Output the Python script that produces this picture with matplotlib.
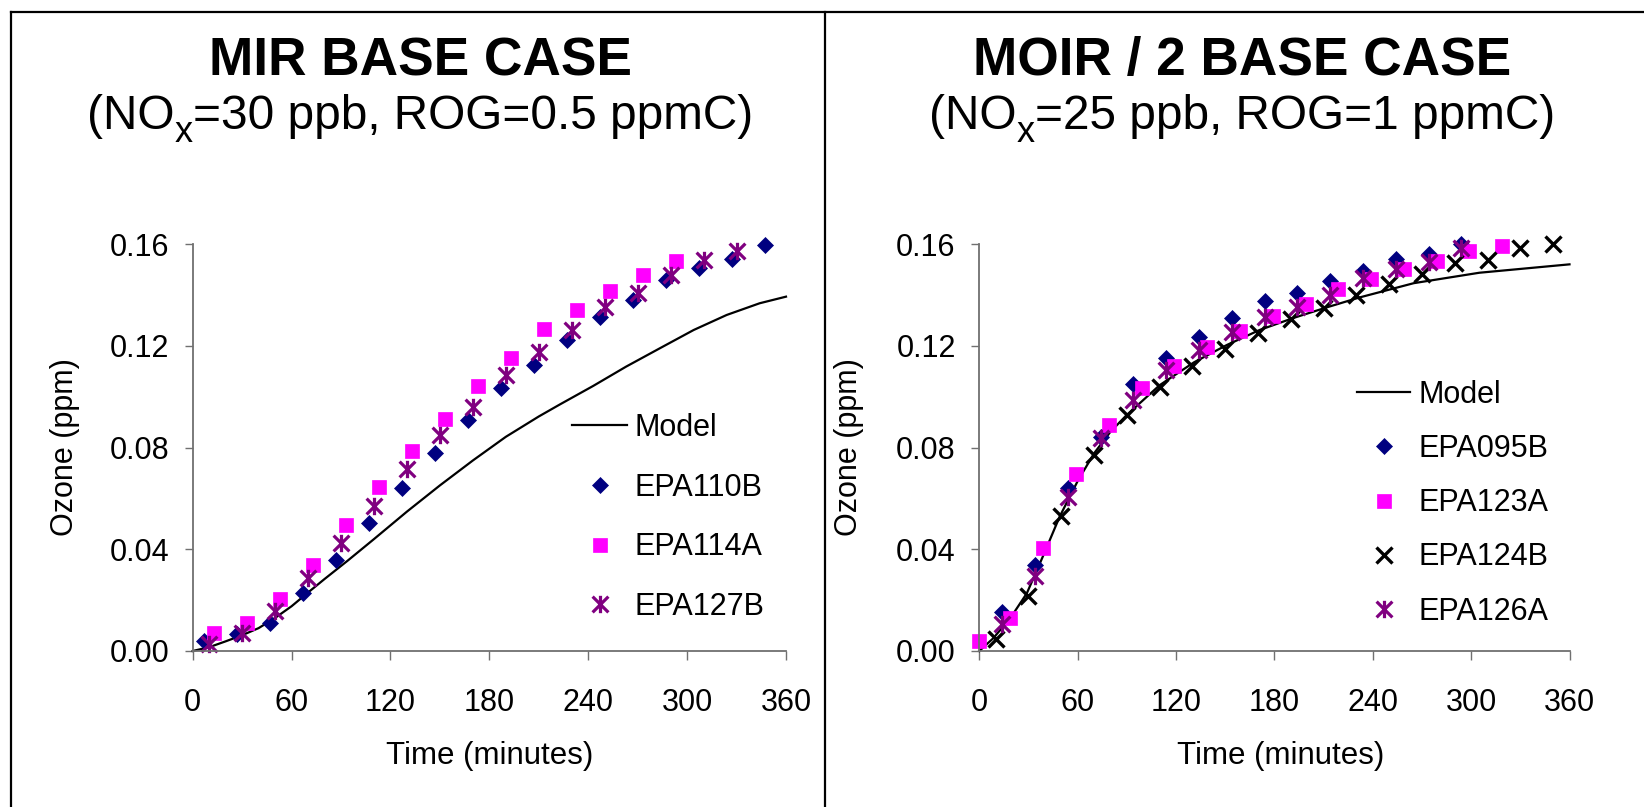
import matplotlib
matplotlib.use("Agg")
import matplotlib.pyplot as plt
from matplotlib.lines import Line2D
from matplotlib.path import Path

plt.rcParams['font.family'] = ['Liberation Sans', 'DejaVu Sans']

# ---------------- data: MIR base case ----------------
mir_model_t = [0, 10, 20, 30, 40, 50, 60, 70, 80, 94, 110, 130, 150, 170, 190, 210, 223, 243, 263, 284, 304, 324, 344, 360]
mir_model_o3 = [0.0, 0.0015, 0.0038, 0.0062, 0.0090, 0.0130, 0.0176, 0.0230, 0.0283, 0.0355, 0.0440, 0.0548, 0.0651,
                0.0749, 0.0842, 0.0922, 0.0970, 0.1042, 0.1118, 0.1192, 0.1262, 0.1321, 0.1367, 0.1393]

mir_t_110B = [7, 27, 47, 67, 87, 107, 127, 147, 167, 187, 207, 227, 247, 267, 287, 307, 327, 347]
mir_o3_110B = [0.0040, 0.0068, 0.0112, 0.0227, 0.0358, 0.0502, 0.0640, 0.0777, 0.0908, 0.1033, 0.1124, 0.1223,
               0.1314, 0.1380, 0.1459, 0.1504, 0.1540, 0.1596]

mir_t_114A = [13, 33, 53, 73, 93, 113, 133, 153, 173, 193, 213, 233, 253, 273, 293]
mir_o3_114A = [0.0070, 0.0110, 0.0205, 0.0340, 0.0495, 0.0646, 0.0788, 0.0911, 0.1043, 0.1153, 0.1267, 0.1341,
               0.1417, 0.1478, 0.1535]

mir_t_127B = [10, 30, 50, 70, 90, 110, 130, 150, 170, 190, 210, 230, 250, 270, 290, 310, 330]
mir_o3_127B = [0.0026, 0.0071, 0.0158, 0.0286, 0.0423, 0.0570, 0.0714, 0.0849, 0.0960, 0.1085, 0.1177, 0.1262,
               0.1351, 0.1406, 0.1478, 0.1537, 0.1574]

# ---------------- data: MOIR/2 base case ----------------
moir_model_t = [0, 8.5, 19, 29, 39, 49, 60, 70, 80, 90, 110, 131, 151, 171, 192, 212, 232, 265, 305, 360]
moir_model_o3 = [0.0, 0.0050, 0.0130, 0.0227, 0.0375, 0.0528, 0.0668, 0.0777, 0.0862, 0.0928, 0.1045, 0.1135,
                 0.1203, 0.1262, 0.1310, 0.1351, 0.1390, 0.1446, 0.1487, 0.1520]

moir_t_095B = [14, 34, 54, 74, 94, 114, 134, 154, 174, 194, 214, 234, 254, 274, 294]
moir_o3_095B = [0.0155, 0.0340, 0.0640, 0.0843, 0.1050, 0.1150, 0.1236, 0.1311, 0.1377, 0.1408, 0.1455, 0.1495,
                0.1540, 0.1559, 0.1600]

moir_t_123A = [0, 19, 39, 59, 79, 99, 119, 139, 159, 179, 199, 219, 239, 259, 279, 299, 319]
moir_o3_123A = [0.0041, 0.0128, 0.0404, 0.0695, 0.0888, 0.1033, 0.1122, 0.1196, 0.1259, 0.1317, 0.1365, 0.1422,
                0.1463, 0.1501, 0.1533, 0.1574, 0.1594]

moir_t_124B = [10, 30, 50, 70, 90, 110, 130, 150, 170, 190, 210, 230, 250, 270, 290, 310, 330, 350]
moir_o3_124B = [0.0046, 0.0216, 0.0531, 0.0771, 0.0928, 0.1039, 0.1122, 0.1187, 0.1249, 0.1305, 0.1347, 0.1398,
                0.1441, 0.1482, 0.1526, 0.1538, 0.1583, 0.1600]

moir_t_126A = [14, 34, 54, 74, 94, 114, 134, 154, 174, 194, 214, 234, 254, 274, 294]
moir_o3_126A = [0.0106, 0.0295, 0.0607, 0.0836, 0.0987, 0.1105, 0.1183, 0.1255, 0.1312, 0.1354, 0.1399, 0.1468,
                0.1500, 0.1531, 0.1583]

x_ticks = [0, 60, 120, 180, 240, 300, 360]
y_ticks = [0.00, 0.04, 0.08, 0.12, 0.16]
y_tick_labels = ["0.00", "0.04", "0.08", "0.12", "0.16"]

titles = ["MIR BASE CASE", "MOIR / 2 BASE CASE"]
subtitles = [("(NO", "x", "=30 ppb, ROG=0.5 ppmC)"), ("(NO", "x", "=25 ppb, ROG=1 ppmC)")]

# ---------------- styling ----------------
NAVY = '#000080'
MAGENTA = '#FF00FF'
PURPLE = '#800080'
AXCOL = '#707070'

star_path = Path([(-1, -1), (1, 1), (-1, 1), (1, -1), (0, -1.1), (0, 1.1)],
                 [Path.MOVETO, Path.LINETO, Path.MOVETO, Path.LINETO, Path.MOVETO, Path.LINETO])

W, H = 1644, 807
fig = plt.figure(figsize=(W / 100, H / 100), dpi=100)

ax1 = fig.add_axes([192.7 / W, 1 - 651 / H, 593.3 / W, 407 / H])
ax2 = fig.add_axes([979.3 / W, 1 - 651 / H, 590.2 / W, 407 / H])


def style_axes(ax):
    ax.set_xlim(0, 360)
    ax.set_ylim(0, 0.16)
    ax.set_xticks(x_ticks)
    ax.set_yticks(y_ticks)
    ax.set_yticklabels(y_tick_labels)
    for s in ['top', 'right']:
        ax.spines[s].set_visible(False)
    for s in ['left', 'bottom']:
        ax.spines[s].set_color(AXCOL)
        ax.spines[s].set_linewidth(1.3)
    ax.tick_params(axis='x', direction='out', length=6.5, width=1.0, color=AXCOL, pad=20, labelsize=22)
    ax.tick_params(axis='y', direction='out', length=6.0, width=1.0, color=AXCOL, pad=11, labelsize=22)
    ax.set_facecolor('none')


def mk(ax, t, y, kind, label):
    if kind == 'D':
        return ax.plot(t, y, ls='none', marker='D', ms=8.5, mfc=NAVY, mec=NAVY, mew=0.5, clip_on=False, label=label)[0]
    if kind == 's':
        return ax.plot(t, y, ls='none', marker='s', ms=10.5, mfc=MAGENTA, mec=MAGENTA, mew=0.5, clip_on=False, label=label)[0]
    if kind == 'star':
        return ax.plot(t, y, ls='none', marker=star_path, ms=12.5, mfc='none', mec=PURPLE, mew=2.3, clip_on=False, label=label)[0]
    if kind == 'x':
        return ax.plot(t, y, ls='none', marker='x', ms=11, mec='black', mew=2.4, clip_on=False, label=label)[0]


# Left panel
style_axes(ax1)
m1 = ax1.plot(mir_model_t, mir_model_o3, color='black', lw=1.6, label='Model', clip_on=False)[0]
h1 = [m1,
      mk(ax1, mir_t_110B, mir_o3_110B, 'D', 'EPA110B'),
      mk(ax1, mir_t_114A, mir_o3_114A, 's', 'EPA114A'),
      mk(ax1, mir_t_127B, mir_o3_127B, 'star', 'EPA127B')]

# Right panel
style_axes(ax2)
m2 = ax2.plot(moir_model_t, moir_model_o3, color='black', lw=1.6, label='Model', clip_on=False)[0]
h2 = [m2,
      mk(ax2, moir_t_095B, moir_o3_095B, 'D', 'EPA095B'),
      mk(ax2, moir_t_123A, moir_o3_123A, 's', 'EPA123A'),
      mk(ax2, moir_t_124B, moir_o3_124B, 'x', 'EPA124B'),
      mk(ax2, moir_t_126A, moir_o3_126A, 'star', 'EPA126A')]

for ax, xc, yc in [(ax1, 0.5, -0.258), (ax2, 0.51, -0.258)]:
    ax.set_xlabel("Time (minutes)", fontsize=22.5, va='center')
    ax.xaxis.set_label_coords(xc, yc)
ax1.set_ylabel("Ozone (ppm)", fontsize=22, va='center')
ax1.yaxis.set_label_coords((65 - 192.7) / 593.3, 0.5)
ax2.set_ylabel("Ozone (ppm)", fontsize=22, va='center')
ax2.yaxis.set_label_coords((849 - 979.3) / 590.2, 0.5)

leg1 = ax1.legend(handles=h1, loc='upper left', bbox_to_anchor=(572 / W, 1 - 413 / H), bbox_transform=fig.transFigure,
                  frameon=False, fontsize=22, numpoints=1, handlelength=1.8, handletextpad=0.25,
                  labelspacing=0.97, borderpad=0, borderaxespad=0)
leg2 = ax2.legend(handles=h2, loc='upper left', bbox_to_anchor=(1357 / W, 1 - 380 / H), bbox_transform=fig.transFigure,
                  frameon=False, fontsize=22, numpoints=1, handlelength=1.75, handletextpad=0.25,
                  labelspacing=0.79, borderpad=0, borderaxespad=0)

# Titles
renderer = fig.canvas.get_renderer()
SUB_FS = 34.4
for xc, t, parts in [(420, titles[0], subtitles[0]), (1242, titles[1], subtitles[1])]:
    fig.text(xc / W, 1 - 75.5 / H, t, ha='center', va='baseline', fontsize=38.3, fontweight='bold')
    base_y = 1 - 129 / H
    pieces = [fig.text(0, base_y, parts[0], fontsize=SUB_FS, va='baseline'),
              fig.text(0, base_y - 13 / H, parts[1], fontsize=26, va='baseline'),
              fig.text(0, base_y, parts[2], fontsize=SUB_FS, va='baseline')]
    widths = [p.get_window_extent(renderer).width for p in pieces]
    total = sum(widths)
    x = xc - total / 2
    for p, w in zip(pieces, widths):
        p.set_x(x / W)
        x += w

# Frame lines
lw = 1.6
fig.add_artist(Line2D([11 / W, 11 / W], [0, 1 - 12 / H], transform=fig.transFigure, color='black', lw=lw))
fig.add_artist(Line2D([825 / W, 825 / W], [0, 1 - 12 / H], transform=fig.transFigure, color='black', lw=lw))
fig.add_artist(Line2D([11 / W, 1.0], [1 - 12 / H, 1 - 12 / H], transform=fig.transFigure, color='black', lw=lw))

fig.savefig('out.png', dpi=100)
